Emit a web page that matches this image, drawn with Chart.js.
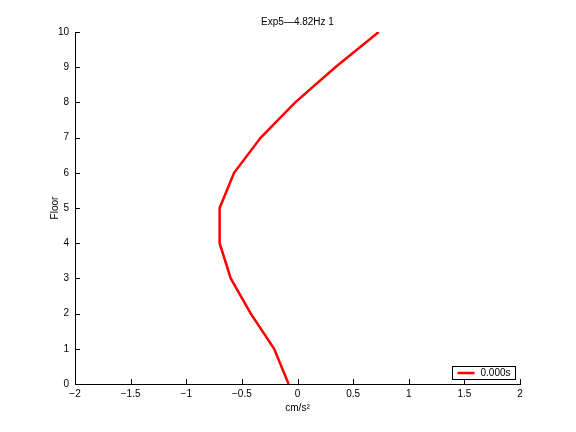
<!DOCTYPE html>
<html>
<head>
<meta charset="utf-8">
<script src="https://cdn.jsdelivr.net/npm/chart.js@4"></script>
<style>
  html, body { margin: 0; padding: 0; background: #fff; }
  #wrap { width: 576px; height: 432px; }
</style>
</head>
<body>
<div id="wrap"><canvas id="chart"></canvas></div>
<script>
// Data
const floors = [0, 1, 2, 3, 4, 5, 6, 7, 8, 9, 10];
const accel = [-0.08, -0.21, -0.42, -0.60, -0.70, -0.70, -0.57, -0.33, -0.02, 0.34, 0.73];
const seriesLabel = '0.000s';
const titleText = 'Exp5\u20144.82Hz 1';
const xTicks = [-2, -1.5, -1, -0.5, 0, 0.5, 1, 1.5, 2];
const yTicks = [0, 1, 2, 3, 4, 5, 6, 7, 8, 9, 10];

const FONT = 'Liberation Sans, Arial, sans-serif';

// MATLAB style: tick marks pointing into the axes
const inwardTicks = {
    id: 'inwardTicks',
    afterDraw(chart) {
        const ctx = chart.ctx;
        const xs = chart.scales.x, ys = chart.scales.y;
        const area = chart.chartArea;
        ctx.save();
        ctx.strokeStyle = '#000';
        ctx.lineWidth = 1;
        ctx.beginPath();
        xs.ticks.forEach(t => {
            const px = Math.round(xs.getPixelForValue(t.value)) + 0.5;
            ctx.moveTo(px, area.bottom);
            ctx.lineTo(px, area.bottom - 5);
        });
        ys.ticks.forEach(t => {
            const py = Math.round(ys.getPixelForValue(t.value)) + 0.5;
            ctx.moveTo(area.left, py);
            ctx.lineTo(area.left + 5, py);
        });
        ctx.stroke();
        ctx.restore();
    }
};

// Title centred over the axes, legend box in the lower right corner
const axesDecor = {
    id: 'axesDecor',
    afterDraw(chart) {
        const ctx = chart.ctx;
        const area = chart.chartArea;
        const ds = chart.data.datasets[0];
        ctx.save();
        ctx.fillStyle = '#000';
        ctx.font = '10px ' + FONT;
        ctx.textAlign = 'center';
        ctx.textBaseline = 'middle';
        ctx.fillText(titleText, (area.left + area.right) / 2, 22);

        const w = 63, h = 13;
        const x0 = area.right - w - 4.5, y0 = area.bottom - h - 4.5;
        ctx.fillStyle = '#fff';
        ctx.fillRect(x0, y0, w, h);
        ctx.strokeStyle = '#000';
        ctx.lineWidth = 1;
        ctx.strokeRect(x0, y0, w, h);
        ctx.strokeStyle = ds.borderColor;
        ctx.lineWidth = 2.5;
        ctx.beginPath();
        ctx.moveTo(x0 + 5, y0 + h / 2);
        ctx.lineTo(x0 + 22, y0 + h / 2);
        ctx.stroke();
        ctx.fillStyle = '#000';
        ctx.textAlign = 'left';
        ctx.fillText(ds.label, x0 + 28, y0 + h / 2 + 0.5);
        ctx.restore();
    }
};

const fmt = v => String(v).replace('-', '\u2212');

const ctx = document.getElementById('chart').getContext('2d');
new Chart(ctx, {
    type: 'line',
    data: {
        datasets: [{
            label: seriesLabel,
            data: floors.map((f, i) => ({ x: accel[i], y: f })),
            borderColor: '#ff0000',
            borderWidth: 2.5,
            pointRadius: 0,
            tension: 0,
            fill: false
        }]
    },
    options: {
        responsive: true,
        maintainAspectRatio: false,
        animation: false,
        layout: { padding: { left: 49, right: 56, top: 32, bottom: 18 } },
        plugins: {
            legend: { display: false },
            tooltip: { enabled: false },
            title: { display: false }
        },
        scales: {
            x: {
                type: 'linear',
                min: -2,
                max: 2,
                afterBuildTicks: s => { s.ticks = xTicks.map(v => ({ value: v })); },
                afterFit: s => { s.height = 30; },
                grid: { display: false, drawTicks: false },
                border: { display: true, color: '#000', width: 1 },
                ticks: {
                    color: '#000',
                    padding: 4,
                    maxRotation: 0,
                    font: { family: FONT, size: 10 },
                    callback: fmt
                },
                title: {
                    display: true,
                    text: 'cm/s\u00b2',
                    color: '#000',
                    font: { family: FONT, size: 10 },
                    padding: { top: 0, bottom: 0 }
                }
            },
            y: {
                type: 'linear',
                min: 0,
                max: 10,
                afterBuildTicks: s => { s.ticks = yTicks.map(v => ({ value: v })); },
                afterFit: s => { s.width = 26; },
                grid: { display: false, drawTicks: false },
                border: { display: true, color: '#000', width: 1 },
                ticks: {
                    color: '#000',
                    padding: 6,
                    font: { family: FONT, size: 10 },
                    callback: fmt
                },
                title: {
                    display: true,
                    text: 'Floor',
                    color: '#000',
                    font: { family: FONT, size: 10 },
                    padding: { top: 0, bottom: 0 }
                }
            }
        }
    },
    plugins: [inwardTicks, axesDecor]
});
</script>
</body>
</html>
